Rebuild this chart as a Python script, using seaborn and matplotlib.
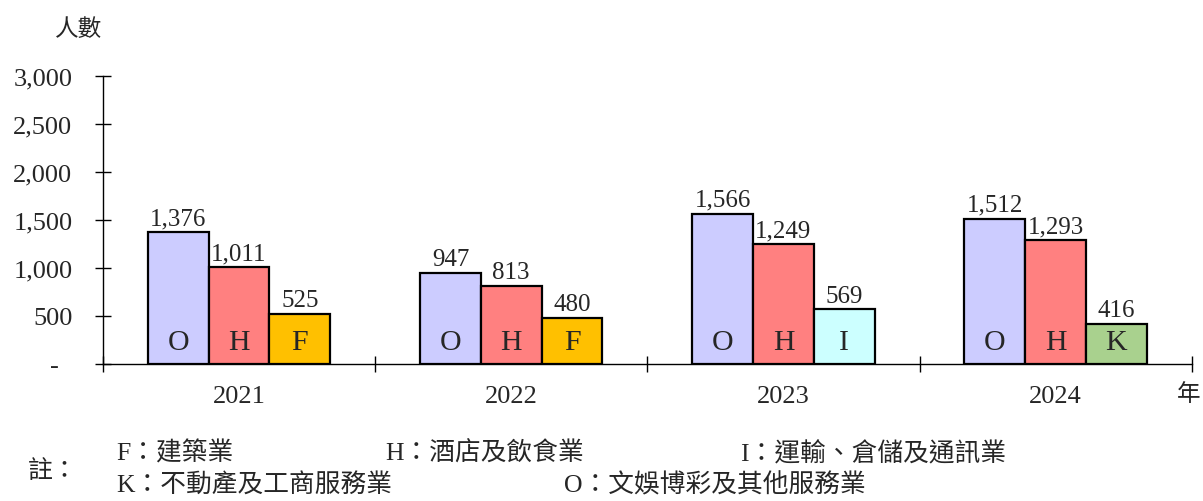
import pandas as pd
import numpy as np
import seaborn as sns
import matplotlib.pyplot as plt
from matplotlib.ticker import FuncFormatter

years = ['2021', '2022', '2023', '2024']
first_codes = ['O', 'O', 'O', 'O']
first_vals = [1376, 947, 1566, 1512]
second_codes = ['H', 'H', 'H', 'H']
second_vals = [1011, 813, 1249, 1293]
third_codes = ['F', 'F', 'I', 'K']
third_vals = [525, 480, 569, 416]

code_colors = {'O': '#CCCCFF', 'H': '#FF8080', 'F': '#FFC000',
               'I': '#CCFFFF', 'K': '#A9D18E'}

notes_row1 = ['F：建築業', 'H：酒店及飲食業', 'I：運輸、倉儲及通訊業']
notes_row2 = ['K：不動產及工商服務業', 'O：文娛博彩及其他服務業']

rows = []
for slot, (codes, vals) in enumerate([(first_codes, first_vals),
                                      (second_codes, second_vals),
                                      (third_codes, third_vals)]):
    for y, c, v in zip(years, codes, vals):
        rows.append({'year': y, 'slot': slot, 'code': c, 'value': v})
df = pd.DataFrame(rows)

sns.set_style('white')
plt.rcParams['font.family'] = ['Liberation Serif', 'Noto Sans CJK TC']

fig = plt.figure(figsize=(12.03, 5.02), dpi=100)
ax = fig.add_axes([0.0856, 0.273, 0.905, 0.574])

sns.barplot(data=df, x='year', y='value', hue='slot', order=years,
            width=0.67, dodge=True, edgecolor='black', linewidth=1.6,
            legend=False, ax=ax, palette=['#CCCCFF', '#FF8080', '#FFC000'],
            saturation=1)

for slot, cont in enumerate(ax.containers):
    sub = df[df['slot'] == slot].set_index('year').loc[years]
    for bar, code, val in zip(cont, sub['code'], sub['value']):
        bar.set_facecolor(code_colors[code])
        cx = bar.get_x() + bar.get_width() / 2
        ax.annotate(f'{val:,}', (cx, val), xytext=(0, 2),
                    textcoords='offset points', ha='center', va='bottom',
                    fontsize=18)
        ax.text(cx, 230, code, ha='center', va='center', fontsize=21.5)

ax.set_ylim(0, 3000)
ax.set_xlim(-0.5, 3.5)
ax.set_yticks(np.arange(0, 3001, 500))
ax.yaxis.set_major_formatter(FuncFormatter(lambda v, p: '-  ' if v == 0 else f'{int(v):,}'))
ax.set_xticks(np.arange(-0.5, 3.6, 1), minor=True)
ax.tick_params(axis='x', which='major', length=0, pad=15, labelsize=19)
ax.tick_params(axis='x', which='minor', direction='inout', length=12,
               width=1, color='black', bottom=True)
ax.tick_params(axis='y', direction='inout', length=12, width=1,
               color='black', left=True, pad=16, labelsize=19)
ax.set_xlabel('')
ax.set_ylabel('')
for s in ['top', 'right']:
    ax.spines[s].set_visible(False)
for s in ['left', 'bottom']:
    ax.spines[s].set_color('black')
    ax.spines[s].set_linewidth(1)

fig.text(0.046, 0.94, '人數', fontsize=17, ha='left', va='center')
fig.text(0.978, 0.213, '年', fontsize=17, ha='left', va='center')

fig.text(0.023, 0.06, '註：', fontsize=18, ha='left', va='center')
for x, t in zip([0.097, 0.32, 0.615], notes_row1):
    fig.text(x, 0.096, t, fontsize=18.5, ha='left', va='center')
for x, t in zip([0.097, 0.469], notes_row2):
    fig.text(x, 0.033, t, fontsize=18.5, ha='left', va='center')

fig.savefig('out.png', dpi=100)
